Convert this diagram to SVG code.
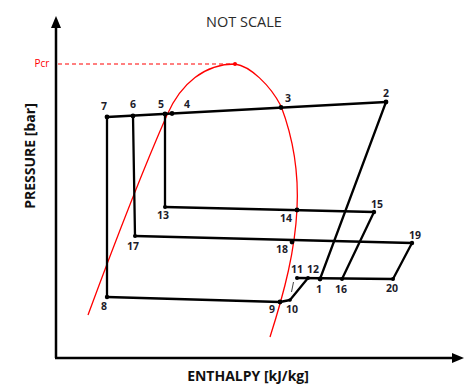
<svg xmlns="http://www.w3.org/2000/svg" width="467" height="385" viewBox="0 0 467 385">
<style>
.ax{stroke:#000;stroke-width:2.5;fill:none}
.ln{stroke:#000;stroke-width:2.3;fill:none;stroke-linejoin:round;stroke-linecap:round}
.dot{fill:#000}
.lbl{font-family:"Open Sans","Liberation Sans",sans-serif;font-size:10.5px;font-weight:700;fill:#1c1c2a;text-anchor:middle}
.ttl{font-family:"Open Sans","Liberation Sans",sans-serif;font-weight:700;font-size:14px;fill:#111;text-anchor:middle}
</style>
<rect width="467" height="385" fill="#fff"/>
<g id="axes">
<line class="ax" x1="56" y1="26" x2="56" y2="358"/>
<line class="ax" x1="55" y1="358" x2="453" y2="358"/>
<polygon points="56,16 51,28 61,28" fill="#000"/>
<polygon points="464,358 452,353 452,363" fill="#000"/>
</g>
<text x="244" y="27" font-family="'Open Sans','Liberation Sans',sans-serif" font-size="14.5" fill="#2a2a2a" text-anchor="middle">NOT SCALE</text>
<text class="ttl" transform="translate(35,156) rotate(-90)">PRESSURE [bar]</text>
<text class="ttl" x="248" y="381">ENTHALPY [kJ/kg]</text>
<g id="dome">
<line x1="58" y1="64" x2="233" y2="64" stroke="#f00" stroke-width="1.2" stroke-dasharray="4,3"/>
<text x="42" y="67" font-family="'Open Sans','Liberation Sans',sans-serif" font-size="10" fill="#f00" text-anchor="middle">Pcr</text>
<path d="M88,315 C112,250 145,165 167,115 C181,83 205,64 235,64 C250,66 270,85 281,106 C292,135 299,170 297,209 C295,250 285,290 270,337" stroke="#f00" stroke-width="1.3" fill="none"/>
<circle cx="235" cy="64" r="2" fill="#f00"/>
</g>
<g id="connectors">
<line class="ln" x1="107" y1="117" x2="386" y2="102"/>
<line class="ln" x1="386" y1="102" x2="320" y2="279"/>
<line class="ln" x1="107" y1="117" x2="107" y2="297"/>
<polyline class="ln" points="107,297 280,302 290,300 308,278"/>
<line class="ln" x1="297" y1="278" x2="393" y2="279"/>
<line class="ln" x1="133" y1="116" x2="135" y2="236"/>
<line class="ln" x1="135" y1="236" x2="412" y2="243"/>
<line class="ln" x1="165" y1="114" x2="165" y2="207"/>
<line class="ln" x1="165" y1="207" x2="374" y2="212"/>
<line class="ln" x1="374" y1="212" x2="342" y2="279"/>
<line class="ln" x1="412" y1="243" x2="393" y2="279"/>
<line x1="293.5" y1="282" x2="291.5" y2="292" stroke="#444" stroke-width="1"/>
</g>
<g id="n7"><circle class="dot" cx="107" cy="117" r="2.4"/><text class="lbl" x="104" y="110">7</text></g>
<g id="n6"><circle class="dot" cx="133" cy="116" r="2.4"/><text class="lbl" x="133" y="108">6</text></g>
<g id="n5"><circle class="dot" cx="165" cy="114" r="2.4"/><text class="lbl" x="161" y="108">5</text></g>
<g id="n4"><circle class="dot" cx="172" cy="113.5" r="2.4"/><text class="lbl" x="187" y="108">4</text></g>
<g id="n3"><circle class="dot" cx="281" cy="107.5" r="2.4"/><text class="lbl" x="288" y="102">3</text></g>
<g id="n2"><circle class="dot" cx="386" cy="102" r="2.4"/><text class="lbl" x="386" y="97">2</text></g>
<g id="n13"><circle class="dot" cx="165" cy="207" r="2"/><text class="lbl" x="163" y="219">13</text></g>
<g id="n14"><circle class="dot" cx="297" cy="210" r="2.4"/><text class="lbl" x="286" y="222">14</text></g>
<g id="n15"><circle class="dot" cx="374" cy="212" r="2.2"/><text class="lbl" x="377" y="208">15</text></g>
<g id="n17"><circle class="dot" cx="135" cy="236" r="2"/><text class="lbl" x="133" y="250">17</text></g>
<g id="n18"><circle class="dot" cx="292" cy="242" r="2.4"/><text class="lbl" x="282" y="253">18</text></g>
<g id="n19"><circle class="dot" cx="412" cy="243" r="2.2"/><text class="lbl" x="415" y="239">19</text></g>
<g id="n8"><circle class="dot" cx="107" cy="297" r="2.2"/><text class="lbl" x="104" y="310">8</text></g>
<g id="n9"><circle class="dot" cx="280" cy="302" r="2.4"/><text class="lbl" x="272" y="313">9</text></g>
<g id="n10"><circle class="dot" cx="290" cy="300" r="1.8"/><text class="lbl" x="292" y="313">10</text></g>
<g id="n11"><circle class="dot" cx="297" cy="278" r="2"/><text class="lbl" x="297" y="273">11</text></g>
<g id="n12"><circle class="dot" cx="308" cy="278" r="2"/><text class="lbl" x="313" y="273">12</text></g>
<g id="n1"><circle class="dot" cx="320" cy="279" r="2.4"/><text class="lbl" x="319" y="293">1</text></g>
<g id="n16"><circle class="dot" cx="342" cy="279" r="2"/><text class="lbl" x="341" y="293">16</text></g>
<g id="n20"><circle class="dot" cx="393" cy="279" r="2"/><text class="lbl" x="392" y="292">20</text></g>
</svg>
